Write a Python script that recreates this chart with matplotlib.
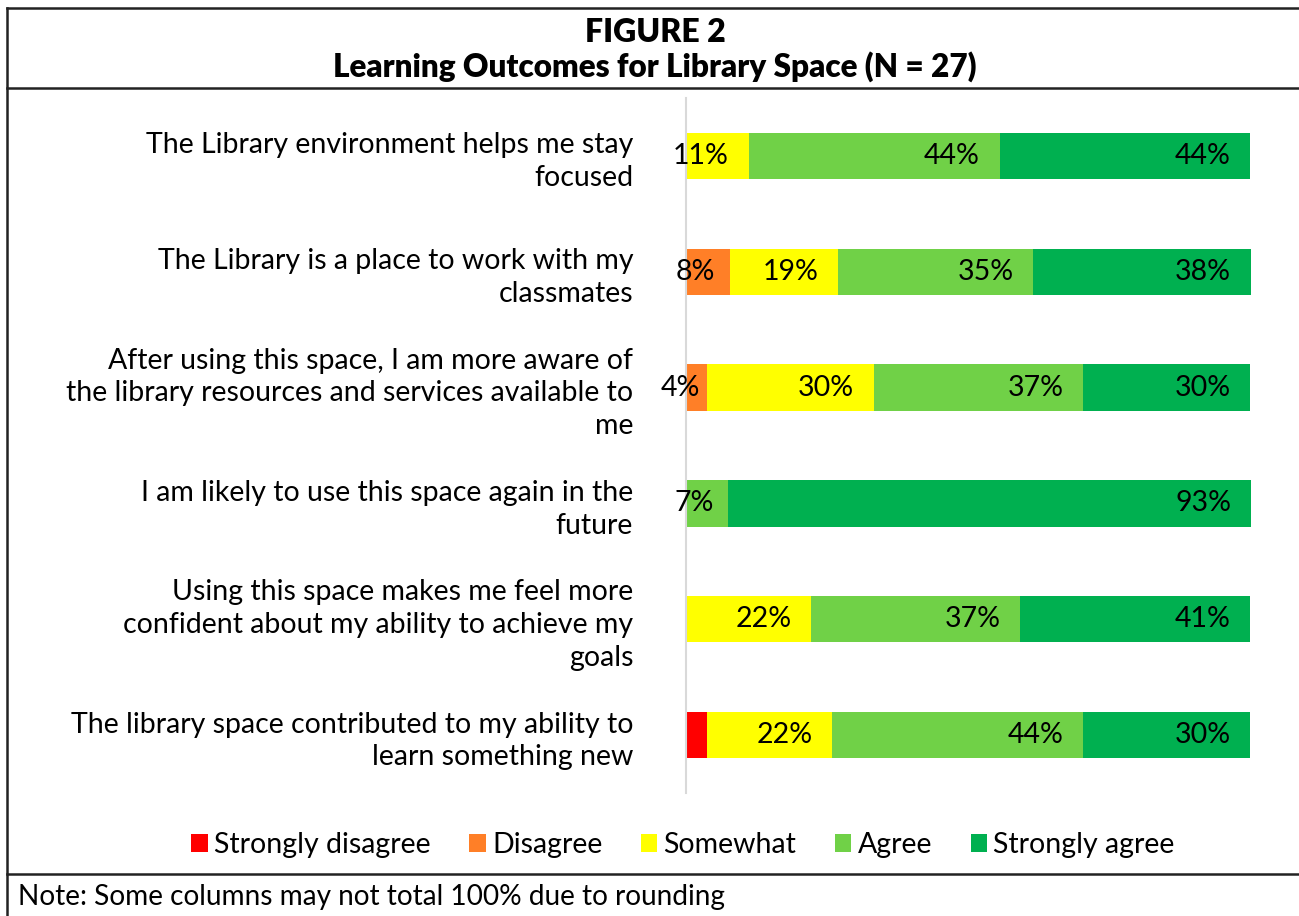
import matplotlib
matplotlib.use("Agg")
import matplotlib.pyplot as plt
from matplotlib.lines import Line2D
from matplotlib.patches import Patch

plt.rcParams['font.family'] = ['Lato', 'DejaVu Sans']

categories = [
    "The Library environment helps me stay\nfocused",
    "The Library is a place to work with my\nclassmates",
    "After using this space, I am more aware of\nthe library resources and services available to\nme",
    "I am likely to use this space again in the\nfuture",
    "Using this space makes me feel more\nconfident about my ability to achieve my\ngoals",
    "The library space contributed to my ability to\nlearn something new",
]
series_names = ["Strongly disagree", "Disagree", "Somewhat", "Agree", "Strongly agree"]
strongly_disagree = [0, 0, 0, 0, 0, 3.7]
disagree = [0, 7.7, 3.7, 0, 0, 0]
somewhat = [11.1, 19.2, 29.6, 0, 22.2, 22.2]
agree = [44.4, 34.6, 37.0, 7.4, 37.0, 44.4]
strongly_agree = [44.4, 38.5, 29.6, 92.6, 40.7, 29.6]
series_values = [strongly_disagree, disagree, somewhat, agree, strongly_agree]
series_colors = ["#FF0000", "#FF7F27", "#FFFF00", "#70D147", "#00B050"]
series_show_labels = [False, True, True, True, True]

title_line1 = "FIGURE 2"
title_line2 = "Learning Outcomes for Library Space (N = 27)"
note = "Note: Some columns may not total 100% due to rounding"

W, H = 1299, 916
fig = plt.figure(figsize=(W / 100, H / 100), dpi=100)

ax = fig.add_axes([686 / W, 1 - 793 / H, (1251 - 686) / W, (793 - 98) / H])
ax.set_xlim(0, 100)
ax.set_ylim(len(categories) - 0.5, -0.5)

fs = 20.5
ypos = list(range(len(categories)))
left = [0] * len(categories)
handles = []
for vals, name, col, show in zip(series_values, series_names, series_colors, series_show_labels):
    ax.barh(ypos, vals, left=left, height=0.4, color=col, edgecolor='none')
    for i, v in enumerate(vals):
        if v > 0 and show:
            pad = min(3.5, v / 3.0)
            ax.text(left[i] + v - pad, i, f"{v:.0f}%", ha='right', va='center',
                    fontsize=fs, color='black')
    left = [l + v for l, v in zip(left, vals)]
    handles.append(Patch(facecolor=col, edgecolor='none', label=name))

ax.set_yticks(ypos)
ax.set_yticklabels(categories, fontsize=fs, multialignment='right', linespacing=1.32)
ax.tick_params(axis='y', length=0, pad=38)
ax.set_xticks([])
for s in ['top', 'right', 'bottom']:
    ax.spines[s].set_visible(False)
ax.spines['left'].set_color('#D9D9D9')
ax.spines['left'].set_linewidth(1.5)

fig.legend(handles=handles, loc='center', bbox_to_anchor=(683 / W, 1 - 845 / H),
           ncol=5, frameon=False, fontsize=fs, handlelength=0.58, handleheight=0.58,
           handletextpad=0.22, columnspacing=1.35)

fig.text(655 / W, 1 - 32 / H, title_line1, ha='center', va='center',
         fontsize=23, fontweight='heavy')
fig.text(655 / W, 1 - 67 / H, title_line2, ha='center', va='center',
         fontsize=22.7, fontweight='heavy')
fig.text(18 / W, 1 - 897 / H, note, ha='left', va='center', fontsize=20.2)

lc = '#222222'
lw = 1.8
for y in [8, 88, 874]:
    fig.add_artist(Line2D([7 / W, 1], [1 - y / H, 1 - y / H], color=lc, lw=lw))
fig.add_artist(Line2D([7 / W, 7 / W], [1 - 8 / H, 0], color=lc, lw=lw))

fig.savefig("out.png", dpi=100)
